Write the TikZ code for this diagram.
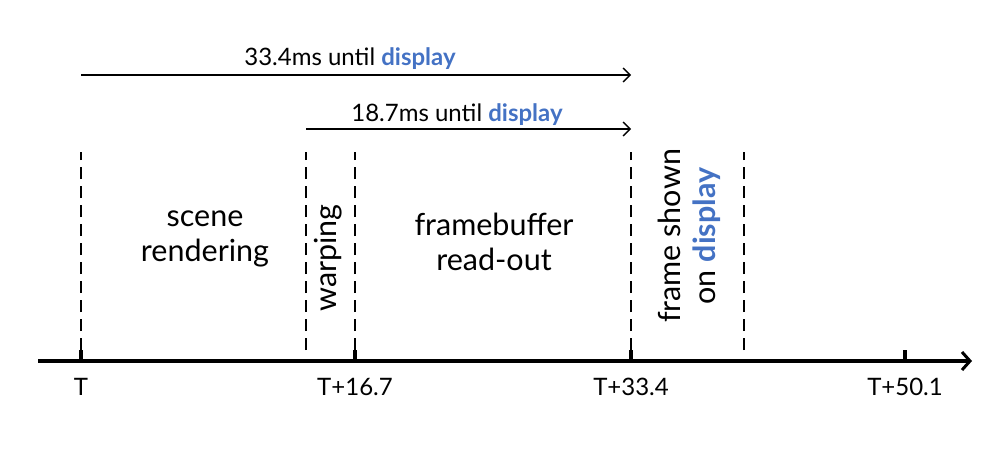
\documentclass[tikz,border=0pt]{standalone}
\usepackage{fontspec}
\setmainfont{Lato}
\usepackage{xcolor}
\usetikzlibrary{arrows.meta,positioning,calc}
\definecolor{dispblue}{HTML}{4472C4}
\newcommand{\disp}{\textcolor{dispblue}{\textbf{display}}}

\begin{document}
\begin{tikzpicture}[
      x=1pt, y=-1pt,
      >={Straight Barb[length=7pt,width=14pt]},
      big/.style={font=\fontsize{30.5}{35}\selectfont, align=center, inner sep=0pt},
      small/.style={font=\fontsize{24}{27}\selectfont, inner sep=0pt},
      ticklabel/.style={font=\fontsize{24}{27}\selectfont, inner sep=0pt, anchor=base},
      phase/.style={line width=1.8pt, dash pattern=on 12pt off 7pt},
      axis/.style={->, line width=3.5pt, >={Straight Barb[length=8pt,width=18pt,line width=3pt]}},
      tickmark/.style={line width=3.5pt},
      until/.style={->, line width=1.3pt}
    ]
    \useasboundingbox (0,0) rectangle (992,452);

    % time axis
    \coordinate (start) at (38,361);
    \coordinate (end) at (972,361);
    \draw[axis] (start) -- (end);

    \coordinate (t0) at (81,361);
    \coordinate (t1) at (355,361);
    \coordinate (t2) at (631,361);
    \coordinate (t3) at (905,361);
    \coordinate (w) at (306,361);
    \coordinate (f) at (744,361);

    \foreach \t in {t0,t1,t2,t3}
      \draw[tickmark] (\t) -- ++(0,-11);
    \foreach \t in {t0,w,t1,t2,f}
      \draw[phase] (\t) ++(0,-11) -- ++(0,-198);

    \node[ticklabel] (lt0) at ($(t0)+(0,34)$) {T};
    \node[ticklabel] (lt1) at ($(t1)+(0,34)$) {T+16.7};
    \node[ticklabel] (lt2) at ($(t2)+(0,34)$) {T+33.4};
    \node[ticklabel] (lt3) at ($(t3)+(0,34)$) {T+50.1};

    % time until display
    \coordinate (a0) at (81,75);
    \coordinate (a1) at (631,75);
    \coordinate (b0) at (306,129);
    \coordinate (b1) at (631,129);
    \draw[until] (a0) -- (a1);
    \draw[until] (b0) -- (b1);
    \node[small, anchor=base] (la) at (350,66) {33.4ms until \disp};
    \node[small, anchor=base] (lb) at (457,121) {18.7ms until \disp};

    % phases
    \node[big] (scene) at (205,239) {scene\\rendering};
    \node[big, rotate=90] (warp) at (328,258) {warping};
    \node[big] (fb) at (494,242) {framebuffer\\read-out};
    \node[big, rotate=90] (shown) at (689,236) {frame shown\\on \disp};
  \end{tikzpicture}
\end{document}
